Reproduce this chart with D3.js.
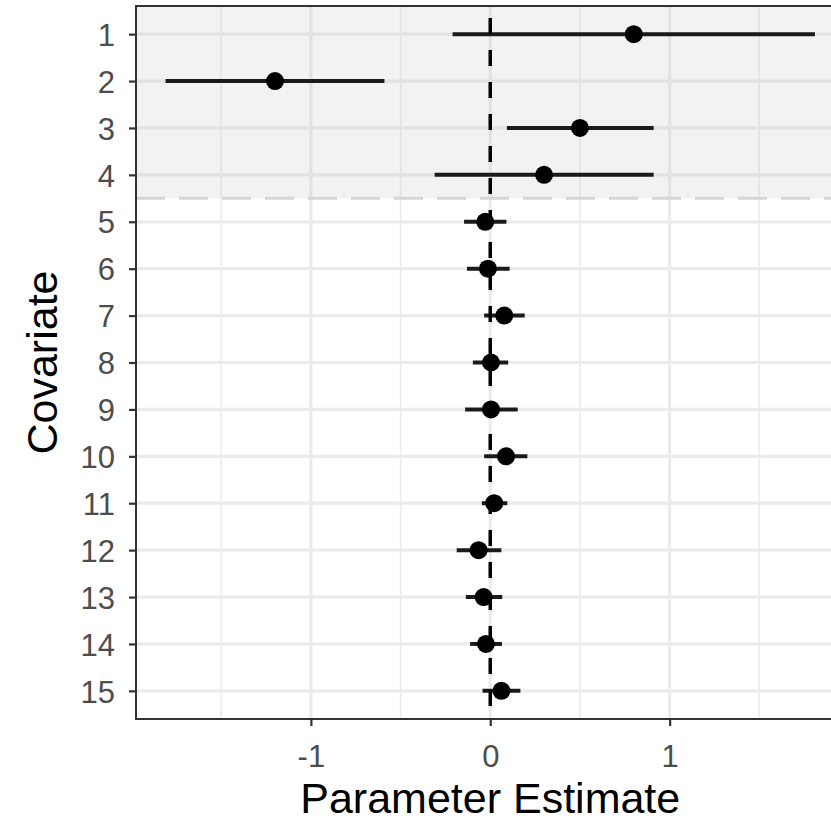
<!DOCTYPE html>
<html>
<head>
<meta charset="utf-8">
<style>
  body { margin: 0; background: #fff; }
  svg text { font-family: "Liberation Sans", Arial, Helvetica, sans-serif; }
</style>
</head>
<body>
<svg width="831" height="822"></svg>
<script src="https://cdn.jsdelivr.net/npm/d3@7"></script>
<script>
// forest plot data
var covariates = ["1","2","3","4","5","6","7","8","9","10","11","12","13","14","15"];
var estimate = [0.80, -1.20, 0.50, 0.30, -0.028, -0.013, 0.078, 0.004, 0.004, 0.088, 0.022, -0.065, -0.037, -0.024, 0.062];
var lower    = [-0.21, -1.81, 0.093, -0.31, -0.146, -0.13, -0.034, -0.097, -0.14, -0.034, -0.047, -0.187, -0.136, -0.112, -0.043];
var upper    = [1.81, -0.59, 0.911, 0.911, 0.09, 0.108, 0.192, 0.10, 0.153, 0.207, 0.095, 0.062, 0.067, 0.065, 0.168];
var xTicks = [-1, 0, 1];
var xMinor = [-1.5, -0.5, 0.5, 1.5];
var shadedRows = 4;   // first four covariates are highlighted

var svg = d3.select("svg"),
    pLeft = 136, pTop = 6, pBottom = 719,
    pRight = 849;

var x = d3.scaleLinear().domain([-1.975, 2.0]).range([pLeft, pRight]);
var y = d3.scalePoint().domain(covariates).range([pTop, pBottom]).padding(0.6);

var rows = covariates.map(function(c, i) {
    return { cov: c, est: estimate[i], lo: lower[i], hi: upper[i] };
});

svg.append("clipPath").attr("id", "clip")
    .append("rect").attr("x", pLeft).attr("y", pTop)
    .attr("width", pRight - pLeft).attr("height", pBottom - pTop);
var g = svg.append("g").attr("clip-path", "url(#clip)");

g.append("rect").attr("x", pLeft).attr("y", pTop)
    .attr("width", pRight - pLeft).attr("height", pBottom - pTop)
    .attr("fill", "#fff");

// grid
g.selectAll(".minor").data(xMinor).enter().append("line")
    .attr("x1", x).attr("x2", x).attr("y1", pTop).attr("y2", pBottom)
    .attr("stroke", "#ebebeb").attr("stroke-width", 1.6);
g.selectAll(".majx").data(xTicks).enter().append("line")
    .attr("x1", x).attr("x2", x).attr("y1", pTop).attr("y2", pBottom)
    .attr("stroke", "#ebebeb").attr("stroke-width", 3.2);
g.selectAll(".majy").data(covariates).enter().append("line")
    .attr("x1", pLeft).attr("x2", pRight).attr("y1", y).attr("y2", y)
    .attr("stroke", "#ebebeb").attr("stroke-width", 3.2);

// shaded block over the first covariates
var cut = (y(covariates[shadedRows - 1]) + y(covariates[shadedRows])) / 2;
g.append("rect").attr("x", pLeft).attr("y", pTop)
    .attr("width", pRight - pLeft).attr("height", cut - pTop)
    .attr("fill", "#bebebe").attr("fill-opacity", 0.2);
g.append("line").attr("x1", pLeft).attr("x2", pRight).attr("y1", cut).attr("y2", cut)
    .attr("stroke", "#d6d6d6").attr("stroke-width", 3)
    .attr("stroke-dasharray", "29,14");

// error bars and points
g.selectAll(".bar").data(rows).enter().append("line")
    .attr("x1", function(d) { return x(d.lo); })
    .attr("x2", function(d) { return x(d.hi); })
    .attr("y1", function(d) { return y(d.cov); })
    .attr("y2", function(d) { return y(d.cov); })
    .attr("stroke", "#1a1a1a").attr("stroke-width", 4);

g.append("line").attr("x1", x(0)).attr("x2", x(0)).attr("y1", pTop).attr("y2", pBottom)
    .attr("stroke", "#000").attr("stroke-width", 3.5)
    .attr("stroke-dasharray", "16,16").attr("stroke-dashoffset", -12);

g.selectAll(".pt").data(rows).enter().append("circle")
    .attr("cx", function(d) { return x(d.est); })
    .attr("cy", function(d) { return y(d.cov); })
    .attr("r", 9).attr("fill", "#000");

// border
svg.append("rect").attr("x", pLeft).attr("y", pTop)
    .attr("width", pRight - pLeft).attr("height", pBottom - pTop)
    .attr("fill", "none").attr("stroke", "#333").attr("stroke-width", 2);

// axes
var xAxis = svg.append("g").attr("transform", "translate(0," + pBottom + ")")
    .call(d3.axisBottom(x).tickValues(xTicks).tickSize(7).tickPadding(10)
        .tickFormat(function(d) { return String(d); }));
var yAxis = svg.append("g").attr("transform", "translate(" + pLeft + ",0)")
    .call(d3.axisLeft(y).tickSize(7).tickPadding(14));

[xAxis, yAxis].forEach(function(a) {
    a.attr("font-size", null).attr("font-family", null);
    a.select(".domain").remove();
    a.selectAll(".tick line").attr("stroke", "#333").attr("stroke-width", 2.2);
    a.selectAll(".tick text").attr("fill", "#4d4d4d").style("font-size", "31px");
});
xAxis.selectAll(".tick text").attr("dy", null).attr("y", 48);
yAxis.selectAll(".tick text").attr("dy", "0.36em");

svg.append("text").attr("x", x(0))
    .attr("y", 813).attr("text-anchor", "middle")
    .style("font-size", "43px").attr("fill", "#000").text("Parameter Estimate");

svg.append("text")
    .attr("transform", "translate(57," + ((pTop + pBottom) / 2) + ") rotate(-90)")
    .attr("text-anchor", "middle")
    .style("font-size", "43px").attr("fill", "#000").text("Covariate");
</script>
</body>
</html>
